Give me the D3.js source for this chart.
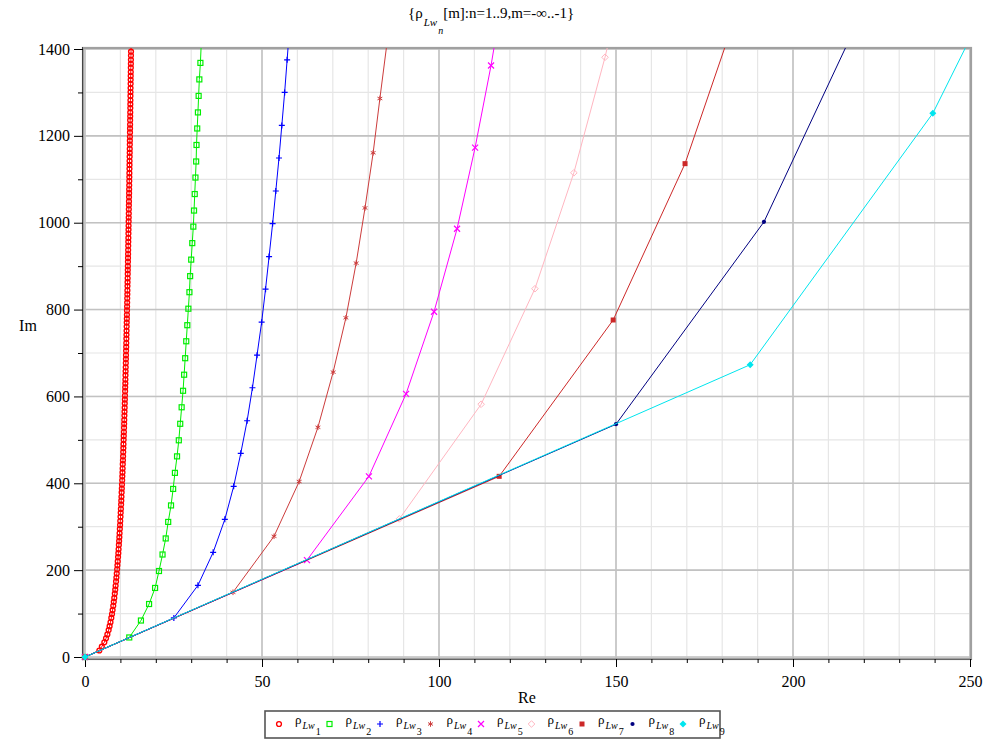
<!DOCTYPE html>
<html><head><meta charset="utf-8">
<script src="https://cdn.jsdelivr.net/npm/d3@7"></script>
<style>body{margin:0;background:#fff}svg{display:block}svg text{font-family:"Liberation Serif","Times New Roman",serif !important;fill:#000}</style>
</head><body><svg id="c" width="986" height="744"></svg>
<script>
// ---- data ----
const seriesIdx = [1,2,3,4,5,6,7,8,9];
const colors = ["#ff0000","#00ee00","#0000ff","#cc3c3c","#ff00ff","#ffb6c1","#cc2828","#000080","#00e5ee"];
const markers = ["circle","square","plus","star","cross","diamond","fsquare","fcircle","fdiamond"];
const xTicksMajor = [0,50,100,150,200,250];
const yTicksMajor = [0,200,400,600,800,1000,1200,1400];

const im1 = [0,15,24,34,43,52,62,71,80,90,99,108,118,127,136,146,155,164,174,183,192,202,211,220,230,239,248,258,267,276,285,295,304,313,323,332,341,351,360,369,379,388,397,407,416,425,434,444,453,462,472,481,490,500,509,518,528,537,546,556,565,574,584,593,602,612,621,630,639,649,658,667,677,686,695,705,714,723,733,742,751,761,770,779,788,798,807,816,826,835,844,854,863,872,882,891,900,910,919,928,937,947,956,965,975,984,993,1003,1012,1021,1031,1040,1049,1059,1068,1077,1086,1096,1105,1114,1124,1133,1142,1152,1161,1170,1180,1189,1198,1208,1217,1226,1236,1245,1254,1264,1273,1282,1292,1301,1310,1320,1329,1338,1347,1357,1366,1375,1385,1394,1403];
const re1 = [0,4.05,4.75,5.46,5.94,6.32,6.68,6.95,7.20,7.43,7.63,7.80,7.98,8.13,8.27,8.42,8.54,8.65,8.77,8.87,8.97,9.08,9.16,9.25,9.34,9.42,9.49,9.57,9.64,9.71,9.77,9.84,9.91,9.96,10.03,10.08,10.14,10.20,10.25,10.30,10.35,10.40,10.45,10.50,10.54,10.59,10.63,10.67,10.72,10.76,10.80,10.84,10.87,10.92,10.95,10.99,11.03,11.06,11.09,11.13,11.16,11.20,11.23,11.26,11.29,11.33,11.35,11.39,11.41,11.44,11.47,11.50,11.53,11.56,11.58,11.61,11.64,11.66,11.69,11.72,11.74,11.77,11.79,11.82,11.84,11.86,11.89,11.91,11.93,11.96,11.98,12.00,12.02,12.05,12.07,12.09,12.11,12.13,12.15,12.17,12.19,12.21,12.23,12.25,12.27,12.29,12.31,12.33,12.35,12.37,12.38,12.40,12.42,12.44,12.46,12.47,12.49,12.51,12.53,12.54,12.56,12.58,12.59,12.61,12.63,12.64,12.66,12.67,12.69,12.71,12.72,12.74,12.75,12.77,12.78,12.80,12.81,12.83,12.84,12.86,12.87,12.89,12.90,12.91,12.93,12.94,12.96,12.97,12.98,13.00,13.01];
const im2 = [0,45,84,122,159,198,236,273,311,349,387,424,462,499,537,575,613,650,688,727,764,802,840,877,915,953,991,1028,1066,1104,1141,1179,1217,1254,1292,1330,1368,1405];
const re2 = [0,12.5,15.8,18.1,19.8,20.9,21.9,22.8,23.5,24.3,24.9,25.4,26.0,26.5,26.9,27.3,27.7,28.0,28.3,28.6,28.9,29.2,29.5,29.7,30.0,30.3,30.6,30.8,31.0,31.2,31.4,31.5,31.7,31.9,32.1,32.3,32.6,32.8];
const im3 = [0,90,165,241,317,393,469,544,620,695,771,847,922,998,1073,1149,1224,1300,1375,1451];
const re3 = [0,25.1,31.9,36.2,39.5,42.0,44.0,45.8,47.3,48.6,49.9,51.0,52.0,53.0,53.9,54.8,55.6,56.4,57.1,57.8];
const im4 = [0,149,278,404,529,656,781,907,1034,1161,1286,1413];
const re4 = [0,41.8,53.4,60.5,65.8,70.1,73.7,76.6,79.1,81.4,83.3,85.3];
const im5 = [0,223,416,606,795,986,1173,1362,1551];
const re5 = [0,62.7,80.2,90.7,98.6,105.1,110.2,114.7,118.6];
const im6 = [0,318,582,848,1115,1381,1646];
const re6 = [0,88.8,111.9,127.1,138.1,146.9,154.5];
const im7 = [0,416,776,1136,1500];
const re7 = [0,117.0,149.2,169.5,184.8];
const im8 = [0,536,1002,1470];
const re8 = [0,150.0,191.8,218.7];
const im9 = [0,673,1252,1850];
const re9 = [0,187.9,239.5,276.0];

const reAll = [re1,re2,re3,re4,re5,re6,re7,re8,re9];
const imAll = [im1,im2,im3,im4,im5,im6,im7,im8,im9];

// ---- drawing ----
const FONT = "Liberation Serif, Times New Roman, serif";
const svg = d3.select("#c");
svg.append("rect").attr("width",986).attr("height",744).attr("fill","#fff");
const x = d3.scaleLinear().domain([0,250]).range([85,970]);
const y = d3.scaleLinear().domain([0,1400]).range([657,49]);
const L=83, R=971, T=48, B=659;

// grid
const g = svg.append("g");
g.selectAll(".vmin").data(d3.range(0,251,10)).join("line")
  .attr("x1",d=>x(d)).attr("x2",d=>x(d)).attr("y1",T).attr("y2",B)
  .attr("stroke","#e6e6e6").attr("stroke-width",1.2);
g.selectAll(".hmin").data(d3.range(0,1401,100)).join("line")
  .attr("y1",d=>y(d)).attr("y2",d=>y(d)).attr("x1",L).attr("x2",R)
  .attr("stroke","#e6e6e6").attr("stroke-width",1.2);
g.selectAll(".vmaj").data(xTicksMajor).join("line")
  .attr("x1",d=>x(d)).attr("x2",d=>x(d)).attr("y1",T).attr("y2",B)
  .attr("stroke","#c2c2c2").attr("stroke-width",1.6);
g.selectAll(".hmaj").data(yTicksMajor).join("line")
  .attr("y1",d=>y(d)).attr("y2",d=>y(d)).attr("x1",L).attr("x2",R)
  .attr("stroke","#c2c2c2").attr("stroke-width",1.6);

// frame
svg.append("rect").attr("x",L).attr("y",T).attr("width",R-L).attr("height",B-T)
  .attr("fill","none").attr("stroke","#a0a0a0").attr("stroke-width",2.2);
svg.append("line").attr("x1",L-0.5).attr("x2",L-0.5).attr("y1",T-1).attr("y2",B+1).attr("stroke","#444").attr("stroke-width",1);
svg.append("line").attr("x1",L-1).attr("x2",R+1).attr("y1",B+0.5).attr("y2",B+0.5).attr("stroke","#666").attr("stroke-width",1);

// axes (ticks + labels)
const xAxis = d3.axisBottom(x).tickValues(d3.range(0,251,10)).tickSize(4).tickFormat(d=> d%50===0 ? d : "");
const xa = svg.append("g").attr("transform",`translate(0,${B})`).call(xAxis).attr("font-family",FONT);
xa.select(".domain").remove();
xa.selectAll(".tick line").attr("stroke","#000").attr("y2",d=>d%50===0?8:4);
xa.selectAll(".tick text").attr("font-size","16px").attr("y",17).attr("fill","#000");

const yAxis = d3.axisLeft(y).tickValues(d3.range(0,1401,100)).tickSize(5).tickFormat(d=> d%200===0 ? d : "");
const ya = svg.append("g").attr("transform",`translate(${L},0)`).call(yAxis).attr("font-family",FONT);
ya.select(".domain").remove();
ya.selectAll(".tick line").attr("stroke","#000").attr("x2",d=>d%200===0?-9:-5);
ya.selectAll(".tick text").attr("font-size","16px").attr("x",-13).attr("fill","#000");

// axis titles
svg.append("text").attr("font-family",FONT).attr("x",28).attr("y",331).attr("text-anchor","middle").attr("font-size","16px").text("Im");
svg.append("text").attr("font-family",FONT).attr("x",527).attr("y",703).attr("text-anchor","middle").attr("font-size","16px").text("Re");

// title
const tt = svg.append("text").attr("font-family",FONT).attr("x",408).attr("y",18).attr("font-size","15px");
tt.append("tspan").text("{ρ");
tt.append("tspan").attr("font-style","italic").attr("font-size","11px").attr("dy",8).attr("dx",1).text("Lw");
tt.append("tspan").attr("font-style","italic").attr("font-size","10px").attr("dy",8).attr("dx",1).text("n");
tt.append("tspan").attr("dy",-16).text("[m]:n=1..9,m=-∞..-1}");

// clip
svg.append("clipPath").attr("id","clip").append("rect").attr("x",L).attr("y",T).attr("width",R-L).attr("height",B-T);

function markerPath(sel, type, color){
  const s=3;
  if(type==="circle"){ sel.append("circle").attr("r",2.4).attr("fill","none").attr("stroke",color).attr("stroke-width",1.4); }
  else if(type==="square"){ sel.append("rect").attr("x",-2.5).attr("y",-2.5).attr("width",5).attr("height",5).attr("fill","none").attr("stroke",color).attr("stroke-width",1.2); }
  else if(type==="plus"){ sel.append("path").attr("d",`M-${s},0H${s}M0,-${s}V${s}`).attr("stroke",color).attr("stroke-width",1.2).attr("fill","none"); }
  else if(type==="cross"){ sel.append("path").attr("d",`M-${s},-${s}L${s},${s}M-${s},${s}L${s},-${s}`).attr("stroke",color).attr("stroke-width",1.2).attr("fill","none"); }
  else if(type==="star"){ const a=2.8; let d=""; for(let k=0;k<3;k++){const t=Math.PI/2+k*Math.PI/3; d+=`M${-a*Math.cos(t)},${-a*Math.sin(t)}L${a*Math.cos(t)},${a*Math.sin(t)}`;} sel.append("path").attr("d",d).attr("stroke",color).attr("stroke-width",1).attr("fill","none"); }
  else if(type==="diamond"){ sel.append("path").attr("d","M0,-3.3L3.3,0L0,3.3L-3.3,0Z").attr("stroke",color).attr("stroke-width",1).attr("fill","none"); }
  else if(type==="fsquare"){ sel.append("rect").attr("x",-2.5).attr("y",-2.5).attr("width",5).attr("height",5).attr("fill",color); }
  else if(type==="fcircle"){ sel.append("circle").attr("r",2.1).attr("fill",color); }
  else if(type==="fdiamond"){ sel.append("path").attr("d","M0,-3.5L3.5,0L0,3.5L-3.5,0Z").attr("fill",color); }
}

const line = d3.line().x(d=>x(d[0])).y(d=>y(d[1]));
seriesIdx.forEach((n,i)=>{
  const pts = d3.zip(reAll[i], imAll[i]);
  const c = colors[i];
  svg.append("path").attr("clip-path","url(#clip)").attr("d",line(pts))
    .attr("fill","none").attr("stroke",c).attr("stroke-width",1);
  const mg = svg.append("g");
  pts.filter(p=>p[1]<=1400 && p[0]<=250).forEach(p=>{
    const m = mg.append("g").attr("transform",`translate(${x(p[0])},${y(p[1])})`);
    markerPath(m, markers[i], c);
  });
});

// legend
const lg = svg.append("g");
lg.append("rect").attr("x",265).attr("y",711).attr("width",455).attr("height",27)
  .attr("fill","#fff").attr("stroke","#555").attr("stroke-width",1.6);
seriesIdx.forEach((n,i)=>{
  const cx = 279 + i*50.5;
  const m = lg.append("g").attr("transform",`translate(${cx},724)`);
  markerPath(m, markers[i], colors[i]);
  const t = lg.append("text").attr("font-family",FONT).attr("x",cx+16).attr("y",724).attr("font-size","13px");
  t.append("tspan").text("ρ");
  t.append("tspan").attr("font-style","italic").attr("font-size","10px").attr("dy",5).attr("dx",1).text("Lw");
  t.append("tspan").attr("font-size","10px").attr("dy",6).attr("dx",1).text(n);
});
</script></body></html>
